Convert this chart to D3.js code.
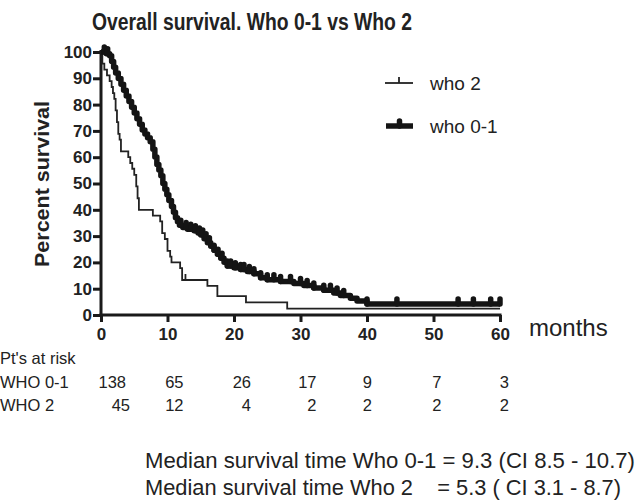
<!DOCTYPE html>
<html><head><meta charset="utf-8">
<script src="https://cdn.jsdelivr.net/npm/d3@7"></script>
<style>
html,body{margin:0;padding:0;background:#fff;}
svg{display:block;font-family:"Liberation Sans",Arial,sans-serif;}
</style></head>
<body>
<svg id="chart" width="641" height="504"></svg>
<script>
// ---- data ----
const who01Times = [0,0.8,1.3,1.6,1.9,2.2,2.6,3.0,3.4,3.8,4.2,4.6,5.0,5.4,5.8,6.2,6.6,7.0,7.4,7.8,8.1,8.4,8.7,9.0,9.3,9.6,9.9,10.2,10.6,10.9,11.2,11.5,11.8,12.3,13.0,14.0,14.6,15.0,15.5,16.0,16.5,17.0,17.5,18.0,18.5,19.0,20.0,21.0,22.0,23.0,24.0,25.0,27.0,29.0,30.5,32.0,33.5,35.0,36.0,37.5,38.5,40.0];
const who01Surv  = [100,99.3,98.6,96.4,94.2,92.0,89.9,87.7,85.5,83.3,81.2,79.0,76.8,74.6,72.5,70.3,68.8,67.4,65.9,63.0,60.1,57.2,55.1,52.9,50.0,47.8,45.7,43.5,41.3,39.1,37.0,35.5,34.1,33.3,32.6,32.0,31.2,30.4,29.0,27.5,26.1,24.6,23.1,21.6,20.1,18.6,18.0,17.3,16.5,15.7,14.2,13.4,12.7,12.0,11.2,10.3,9.4,8.4,7.4,6.4,5.3,4.2];
const who01Censored = [0.5,1.0,12.0,12.8,13.5,14.2,14.8,15.3,15.8,16.3,17.0,17.6,18.2,19.0,19.5,20.2,21.0,21.5,22.3,23.0,24.0,25.0,26.0,27.0,28.5,30.0,31.0,32.0,33.5,34.5,35.5,36.5,40.0,44.5,53.7,56.0,58.6,60.0];

const who2Times = [0,0.2,0.5,0.9,1.3,1.6,1.8,2.0,2.2,2.4,2.6,2.8,3.0,4.1,4.4,4.7,5.0,5.3,5.5,5.7,7.8,8.9,9.2,9.6,10.0,10.4,10.6,11.9,12.2,16.0,17.5,21.8,28.0];
const who2Surv  = [100,95.6,93.3,91.1,88.9,86.7,84.4,82.2,77.8,73.3,68.9,66.7,62.2,60.0,57.8,55.6,53.3,48.9,44.4,40.0,37.8,35.6,31.1,28.9,24.4,22.2,20.0,17.8,13.3,11.1,7.2,4.8,2.4];
const who2Censored = [12.7];

const xTicks = [0,10,20,30,40,50,60];
const yTicks = [0,10,20,30,40,50,60,70,80,90,100];
const riskTimes = [0,10,20,30,40,50,60];
const riskWho01 = [138,65,26,17,9,7,3];
const riskWho2  = [45,12,4,2,2,2,2];

const titleText = "Overall survival. Who 0-1 vs Who 2";
const yLabel = "Percent survival";
const xLabel = "months";
const legendLabels = ["who 2","who 0-1"];
const riskHeader = "Pt's at risk";
const riskRowLabels = ["WHO 0-1","WHO 2"];
const medianLines = ["Median survival time Who 0-1 = 9.3 (CI 8.5 - 10.7)",
                     "Median survival time Who 2    = 5.3 ( CI 3.1 - 8.7)"];

// ---- drawing ----
const svg = d3.select("#chart");
const x = d3.scaleLinear().domain([0,60]).range([101,500]);
const y = d3.scaleLinear().domain([0,100]).range([315,52]);

function survAt(times, surv, t){
  let s = surv[0];
  for(let i=0;i<times.length;i++){ if(times[i]<=t) s = surv[i]; }
  return s;
}

// title
svg.append("text").attr("x",92).attr("y",30)
  .attr("font-size",23).attr("font-weight","bold").attr("fill","#222")
  .attr("textLength",320).attr("lengthAdjust","spacingAndGlyphs").text(titleText);

// axes
const yAxis = d3.axisLeft(y).tickValues(yTicks).tickSize(8).tickSizeOuter(0).tickPadding(1);
const gy = svg.append("g").attr("transform","translate(101,0)").call(yAxis);
const xAxis = d3.axisBottom(x).tickValues(xTicks).tickSize(7).tickSizeOuter(0).tickPadding(6);
const gx = svg.append("g").attr("transform","translate(0,315)").call(xAxis);
[gx,gy].forEach(g=>{
  g.select(".domain").attr("stroke","#1a1a1a").attr("stroke-width",3);
  g.selectAll(".tick line").attr("stroke","#1a1a1a").attr("stroke-width",3);
  g.selectAll(".tick text").attr("font-size",17).attr("font-weight","bold").attr("fill","#222")
    .attr("font-family","'Liberation Sans',Arial,sans-serif");
});
gy.select(".domain").attr("d","M0,"+(y(100)-2)+"V"+(y(0)+1.5));
gx.select(".domain").attr("d","M"+(x(0)-1.5)+",0H"+(x(60)+1.5));

// y label
svg.append("text").attr("transform","translate(49,184) rotate(-90)").attr("text-anchor","middle")
  .attr("font-size",21).attr("font-weight","bold").attr("fill","#222")
  .attr("textLength",166).attr("lengthAdjust","spacingAndGlyphs").text(yLabel);
// x label
svg.append("text").attr("x",529).attr("y",336).attr("font-size",24).attr("fill","#222").text(xLabel);

// curves
const line = d3.line().x(d=>x(d[0])).y(d=>y(d[1])).curve(d3.curveStepAfter);
const who2Pts = who2Times.map((t,i)=>[t,who2Surv[i]]); who2Pts.push([60,who2Surv[who2Surv.length-1]]);
const who01Pts = who01Times.map((t,i)=>[t,who01Surv[i]]); who01Pts.push([60,who01Surv[who01Surv.length-1]]);

svg.append("path").attr("d",line(who2Pts)).attr("fill","none").attr("stroke","#222").attr("stroke-width",1.8);
svg.selectAll(".c2").data(who2Censored).enter().append("line")
  .attr("x1",d=>x(d)).attr("x2",d=>x(d))
  .attr("y1",d=>y(survAt(who2Times,who2Surv,d))).attr("y2",d=>y(survAt(who2Times,who2Surv,d))-6)
  .attr("stroke","#222").attr("stroke-width",1.8);

svg.append("path").attr("d",line(who01Pts)).attr("fill","none").attr("stroke","#141414")
  .attr("stroke-width",5.5).attr("stroke-linejoin","round");
svg.selectAll(".c01").data(who01Censored).enter().append("line")
  .attr("x1",d=>x(d)).attr("x2",d=>x(d))
  .attr("y1",d=>y(survAt(who01Times,who01Surv,d))).attr("y2",d=>y(survAt(who01Times,who01Surv,d))-5)
  .attr("stroke","#141414").attr("stroke-width",5.5).attr("stroke-linecap","round");

// legend
const lg = svg.append("g");
lg.append("line").attr("x1",385).attr("x2",413).attr("y1",83).attr("y2",83).attr("stroke","#222").attr("stroke-width",1.8);
lg.append("line").attr("x1",399).attr("x2",399).attr("y1",83).attr("y2",77).attr("stroke","#222").attr("stroke-width",1.8);
lg.append("text").attr("x",430).attr("y",90).attr("font-size",19).attr("fill","#222").text(legendLabels[0]);
lg.append("line").attr("x1",386).attr("x2",413).attr("y1",126).attr("y2",126).attr("stroke","#141414").attr("stroke-width",5.5);
lg.append("line").attr("x1",399.5).attr("x2",399.5).attr("y1",126).attr("y2",121).attr("stroke","#141414").attr("stroke-width",5.5).attr("stroke-linecap","round");
lg.append("text").attr("x",430).attr("y",133).attr("font-size",19).attr("fill","#222").text(legendLabels[1]);

// risk table
const riskOffsets = [25,16,17,16,5,8,9];
svg.append("text").attr("x",0).attr("y",364).attr("font-size",16.5).attr("fill","#222").text(riskHeader);
[[riskWho01,388],[riskWho2,411]].forEach(([vals,yy],r)=>{
  svg.append("text").attr("x",0).attr("y",yy).attr("font-size",16.5).attr("fill","#222").text(riskRowLabels[r]);
  svg.selectAll(".risk"+r).data(vals).enter().append("text")
    .attr("x",(d,i)=>x(riskTimes[i])+riskOffsets[i]+(r===1&&i===0?4:0)).attr("y",yy)
    .attr("text-anchor","end").attr("font-size",16.5).attr("fill","#222").text(d=>d);
});

// median text
medianLines.forEach((t,i)=>{
  svg.append("text").attr("x",145).attr("y",468+i*27).attr("font-size",22).attr("fill","#222")
    .attr("textLength",i===0?490:476).attr("lengthAdjust","spacingAndGlyphs")
    .attr("xml:space","preserve").style("white-space","pre").text(t);
});
</script>
</body></html>
